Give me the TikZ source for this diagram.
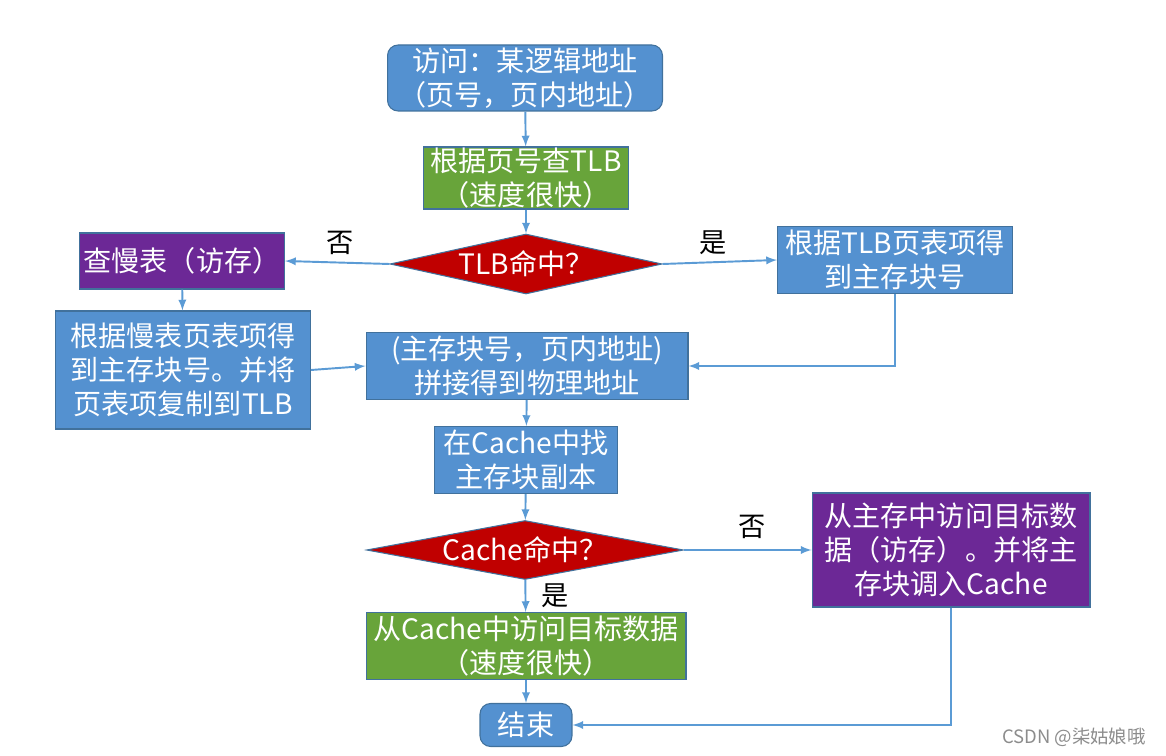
\documentclass[tikz,border=0pt]{standalone}
\usepackage{fontspec}
\setmainfont{Noto Sans CJK SC}
\usepackage{tikz}
\usetikzlibrary{shapes.geometric, arrows, positioning, calc}

\definecolor{boxblue}{RGB}{84,145,208}
\definecolor{boxgreen}{RGB}{104,164,58}
\definecolor{boxred}{RGB}{192,0,0}
\definecolor{boxpurple}{RGB}{108,40,150}
\definecolor{boxline}{RGB}{65,113,156}
\definecolor{flowline}{RGB}{91,155,213}

\begin{document}
\begin{tikzpicture}[x=0.02cm, y=-0.02cm,
  every node/.style={font=\fontsize{16}{19.5}\selectfont},
  proc/.style={rectangle, draw=boxline, line width=0.6pt, text=white, align=center, inner sep=0pt},
  term/.style={proc, rounded corners=6pt},
  test/.style={diamond, fill=boxred, draw=boxline, line width=0.6pt, text=white, inner sep=0pt},
  flow/.style={draw=flowline, line width=1.1pt, -latex},
  tag/.style={text=black, font=\fontsize{15.5}{17}\selectfont}]
\useasboundingbox (0,0) rectangle (1166,756);

% TLB part
\node[term, fill=boxblue, minimum width=5.5cm, minimum height=1.32cm] (access) at (525,78) {访问：某逻辑地址\\（页号，页内地址）};
\node[proc, fill=boxgreen, minimum width=4.1cm, minimum height=1.24cm] (lookup) at (526,178) {根据页号查TLB\\（速度很快）};
\node[test, aspect=4.5, minimum width=5.44cm, minimum height=1.2cm] (tlbhit) at (526,264) {TLB命中？};
\node[proc, fill=boxpurple, minimum width=4.1cm, minimum height=1.12cm] (slow) at (182,261) {查慢表（访存）};
\node[proc, fill=boxblue, minimum width=4.7cm, minimum height=1.34cm] (tlbok) at (895,260) {根据TLB页表项得\\到主存块号};
\node[proc, fill=boxblue, minimum width=5.1cm, minimum height=2.36cm] (copy) at (183,370) {根据慢表页表项得\\到主存块号。并将\\页表项复制到TLB};
\node[proc, fill=boxblue, minimum width=6.44cm, minimum height=1.34cm] (phys) at (527,366) {(主存块号，页内地址)\\拼接得到物理地址};

% Cache part
\node[proc, fill=boxblue, minimum width=3.66cm, minimum height=1.34cm] (find) at (526,460) {在Cache中找\\主存块副本};
\node[test, aspect=5.4, minimum width=6.34cm, minimum height=1.18cm] (cachehit) at (525,550) {Cache命中？};
\node[proc, fill=boxgreen, minimum width=6.4cm, minimum height=1.34cm] (fast) at (526,646) {从Cache中访问目标数据\\（速度很快）};
\node[proc, fill=boxpurple, minimum width=5.56cm, minimum height=2.28cm] (mem) at (951,550) {从主存中访问目标数\\据（访存）。并将主\\存块调入Cache};
\node[term, fill=boxblue, minimum width=1.84cm, minimum height=0.86cm] (done) at (526,725) {结束};

% connectors
\draw[flow] (access) -- (lookup);
\draw[flow] (lookup) -- (tlbhit);
\draw[flow] (tlbhit.west) -- (slow.east);
\draw[flow] (tlbhit.east) -- (tlbok.west);
\draw[flow] (slow) -- (copy);
\draw[flow] (copy.east) -- (phys.west);
\draw[flow] (tlbok.south) |- (phys.east);
\draw[flow] (phys) -- (find);
\draw[flow] (find) -- (cachehit);
\draw[flow] (cachehit.east) -- (mem.west);
\draw[flow] (cachehit) -- (fast);
\draw[flow] (fast) -- (done);
\draw[flow] (mem.south) |- (done.east);

% labels
\node[tag] (no1) at (340,243) {否};
\node[tag] (yes1) at (713,243) {是};
\node[tag] (no2) at (752,527) {否};
\node[tag] (yes2) at (555,596) {是};

\node[text=black!45, font=\fontsize{10.5}{12}\selectfont, anchor=east] (mark) at (1152,737) {CSDN @柒姑娘哦};
\end{tikzpicture}
\end{document}
